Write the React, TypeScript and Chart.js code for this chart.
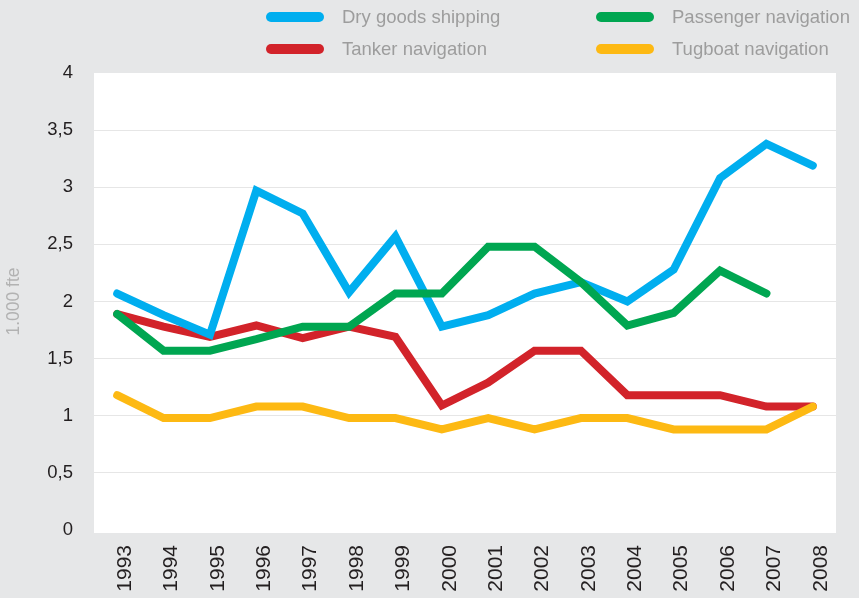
import React, { useEffect, useRef } from 'react';
import { Chart, registerables } from 'chart.js';

Chart.register(...registerables);

const years = ['1993', '1994', '1995', '1996', '1997', '1998', '1999', '2000', '2001', '2002', '2003', '2004', '2005', '2006', '2007', '2008'];
const dryGoods = [2.07, 1.88, 1.71, 2.97, 2.77, 2.08, 2.57, 1.78, 1.88, 2.07, 2.17, 2.0, 2.28, 3.08, 3.38, 3.19];
const passenger = [1.89, 1.57, 1.57, 1.67, 1.78, 1.78, 2.07, 2.07, 2.48, 2.48, 2.17, 1.79, 1.9, 2.27, 2.07, null];
const tanker = [1.89, 1.78, 1.69, 1.79, 1.68, 1.78, 1.69, 1.09, 1.29, 1.57, 1.57, 1.18, 1.18, 1.18, 1.08, 1.08];
const tugboat = [1.18, 0.98, 0.98, 1.08, 1.08, 0.98, 0.98, 0.88, 0.98, 0.88, 0.98, 0.98, 0.88, 0.88, 0.88, 1.08];
const yTickValues = [0, 0.5, 1, 1.5, 2, 2.5, 3, 3.5, 4];
const yTickLabels = ['0', '0,5', '1', '1,5', '2', '2,5', '3', '3,5', '4'];
const yTitle = '1.000 fte';

const seriesNames = ['Dry goods shipping', 'Passenger navigation', 'Tanker navigation', 'Tugboat navigation'];
const seriesColors = ['#00aeef', '#00a651', '#d2232a', '#fdb913'];
const seriesData = [dryGoods, passenger, tanker, tugboat];
const seriesOrder = [2, 1, 3, 0];

const FONT = '"Liberation Sans", Arial, Helvetica, sans-serif';

const chartAreaBg = {
  id: 'chartAreaBg',
  beforeDraw(chart: any) {
    const { ctx, chartArea } = chart;
    ctx.save();
    ctx.fillStyle = '#ffffff';
    ctx.fillRect(chartArea.left, chartArea.top, chartArea.right - chartArea.left, chartArea.bottom - chartArea.top + 3);
    ctx.restore();
  },
};

export default function App() {
  const canvasRef = useRef<HTMLCanvasElement | null>(null);

  useEffect(() => {
    document.body.style.margin = '0';
    document.body.style.background = '#e6e7e8';
    const canvas = canvasRef.current;
    if (!canvas) return;
    const chart = new Chart(canvas, {
      type: 'line',
      data: {
        labels: years,
        datasets: seriesNames.map((name, i) => ({
          label: name,
          data: seriesData[i],
          borderColor: seriesColors[i],
          backgroundColor: seriesColors[i],
          borderWidth: 8,
          borderCapStyle: 'round' as const,
          borderJoinStyle: 'miter' as const,
          pointRadius: 0,
          pointHoverRadius: 0,
          tension: 0,
          fill: false,
          spanGaps: false,
          order: seriesOrder[i],
        })),
      },
      options: {
        animation: false,
        responsive: false,
        maintainAspectRatio: false,
        layout: { padding: { top: 73, right: 23, bottom: 0, left: 0 } },
        plugins: {
          legend: { display: false },
          tooltip: { enabled: false },
        },
        scales: {
          x: {
            offset: true,
            grid: { display: false, drawTicks: false },
            border: { display: false },
            ticks: {
              autoSkip: false,
              maxRotation: 90,
              minRotation: 90,
              padding: 15,
              labelOffset: 8,
              color: '#231f20',
              font: { family: FONT, size: 21 },
            },
            afterFit(scale: any) {
              scale.height = 68;
            },
          },
          y: {
            min: 0,
            max: 4,
            afterBuildTicks(scale: any) {
              scale.ticks = yTickValues.map((v) => ({ value: v }));
            },
            grid: {
              drawTicks: false,
              lineWidth: 1,
              color: (ctx: any) => {
                const v = ctx.tick ? ctx.tick.value : null;
                return v === 0 || v === 4 ? 'rgba(0,0,0,0)' : '#e6e6e6';
              },
            },
            border: { display: false },
            ticks: {
              padding: 21,
              color: '#231f20',
              font: { family: FONT, size: 18.5 },
              callback: (value: any) => {
                const idx = yTickValues.indexOf(Number(value));
                return idx >= 0 ? yTickLabels[idx] : '';
              },
            },
            title: {
              display: true,
              text: yTitle,
              color: '#b2b2b2',
              font: { family: FONT, size: 17.5 },
              padding: { top: 4, bottom: 0 },
            },
            afterFit(scale: any) {
              scale.width = 94;
            },
          },
        },
      },
      plugins: [chartAreaBg],
    });
    return () => chart.destroy();
  }, []);

  const legendPos = [
    { left: 266, top: 17 },
    { left: 596, top: 17 },
    { left: 266, top: 49 },
    { left: 596, top: 49 },
  ];

  return (
    <div style={{ position: 'relative', width: 859, height: 598, background: '#e6e7e8', overflow: 'hidden' }}>
      <canvas ref={canvasRef} width={859} height={598} style={{ position: 'absolute', left: 0, top: 0, width: 859, height: 598 }} />
      {seriesNames.map((name, i) => (
        <div key={name} style={{ position: 'absolute', left: legendPos[i].left, top: legendPos[i].top - 12, height: 24, display: 'flex', alignItems: 'center' }}>
          <div style={{ width: 58, height: 10, borderRadius: 5, background: seriesColors[i] }} />
          <span style={{ marginLeft: 18, fontFamily: FONT, fontSize: 18.5, color: '#9d9d9d', whiteSpace: 'nowrap', lineHeight: '24px' }}>{name}</span>
        </div>
      ))}
    </div>
  );
}
